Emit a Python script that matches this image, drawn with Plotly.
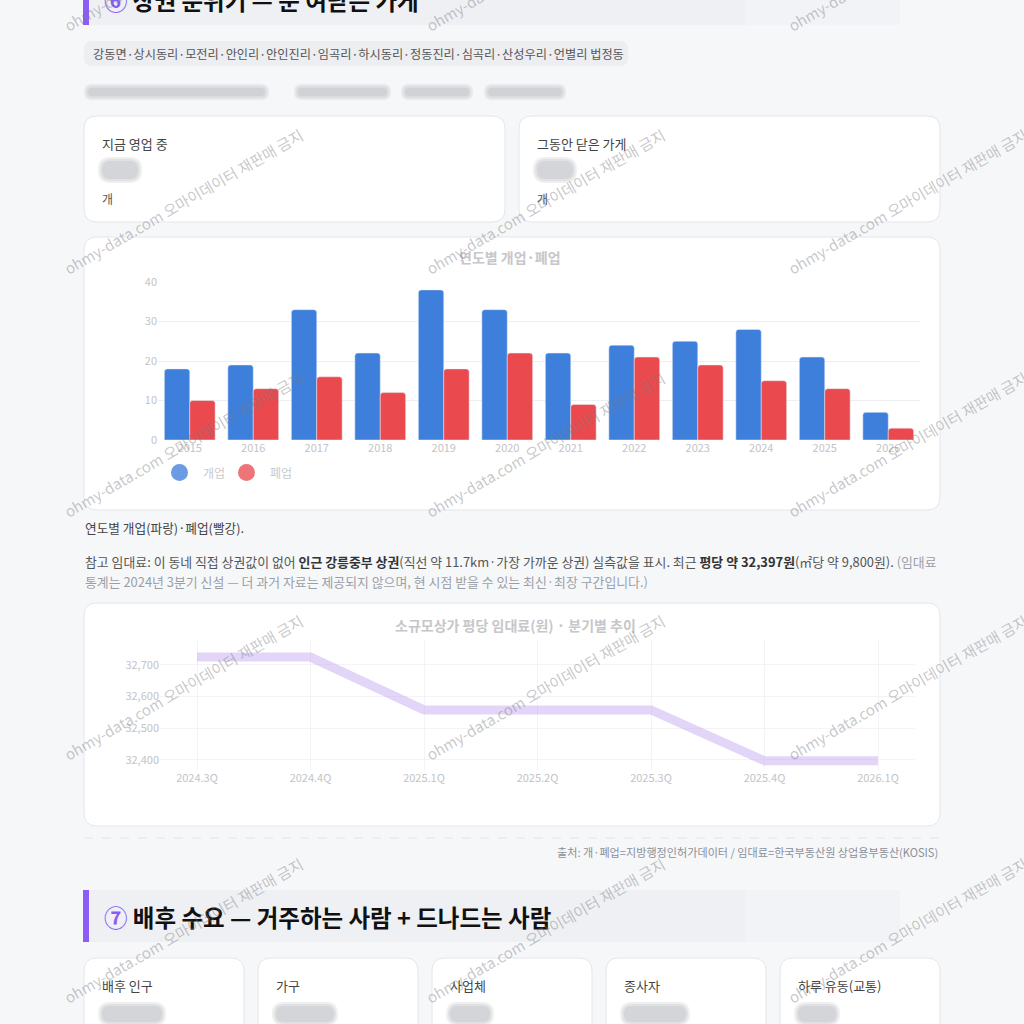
import plotly.graph_objects as go

# ---------------- data ----------------
years = ["2015", "2016", "2017", "2018", "2019", "2020", "2021", "2022", "2023", "2024", "2025", "2026"]
opened = [18, 19, 33, 22, 38, 33, 22, 24, 25, 28, 21, 7]
closed = [10, 13, 16, 12, 18, 22, 9, 21, 19, 15, 13, 3]
bar_ticks = [0, 10, 20, 30, 40]

quarters = ["2024.3Q", "2024.4Q", "2025.1Q", "2025.2Q", "2025.3Q", "2025.4Q", "2026.1Q"]
rent = [32725, 32725, 32558, 32558, 32558, 32397, 32397]
rent_ticks = [32400, 32500, 32600, 32700]

villages = "강동면·상시동리·모전리·안인리·안인진리·임곡리·하시동리·정동진리·심곡리·산성우리·언별리 법정동"
demand_labels = ["배후 인구", "가구", "사업체", "종사자", "하루 유동(교통)"]

# ---------------- helpers ----------------
W = H = 1024
FONT = "Noto Sans CJK KR"


def X(px):
    return px / W


def Y(py):
    return 1 - py / H


def rrect(x0, y0, x1, y1, r, fill, line="rgba(0,0,0,0)", lw=1, layer="below", opacity=1):
    p = (f"M {X(x0 + r)},{Y(y0)} L {X(x1 - r)},{Y(y0)} Q {X(x1)},{Y(y0)} {X(x1)},{Y(y0 + r)} "
         f"L {X(x1)},{Y(y1 - r)} Q {X(x1)},{Y(y1)} {X(x1 - r)},{Y(y1)} "
         f"L {X(x0 + r)},{Y(y1)} Q {X(x0)},{Y(y1)} {X(x0)},{Y(y1 - r)} "
         f"L {X(x0)},{Y(y0 + r)} Q {X(x0)},{Y(y0)} {X(x0 + r)},{Y(y0)} Z")
    return dict(type="path", xref="paper", yref="paper", path=p, fillcolor=fill,
                line=dict(color=line, width=lw), layer=layer, opacity=opacity)


def rect(x0, y0, x1, y1, fill, layer="below"):
    return dict(type="rect", xref="paper", yref="paper", x0=X(x0), x1=X(x1), y0=Y(y1), y1=Y(y0),
                fillcolor=fill, line=dict(width=0), layer=layer)


def blob(x0, x1, yc, h):
    out = []
    for k, op in [(0, 0.22), (2, 0.25), (4, 0.3)]:
        r = max(1, (h - 2 * k) / 2)
        out.append(rrect(x0 + k, yc - h / 2 + k, x1 - k, yc + h / 2 - k, r, "#b9bbc0",
                         layer="above", opacity=op))
    return out


def txt(x, y, s, size=13, color="#444", xanchor="left", bold=False, **kw):
    if bold:
        s = f"<b>{s}</b>"
    return dict(x=X(x), y=Y(y), xref="paper", yref="paper", text=s, showarrow=False,
                xanchor=xanchor, yanchor="middle", font=dict(size=size, color=color, family=FONT), **kw)


shapes = []
ann = []

# ---------------- section 6 header ----------------
shapes.append(rect(89, -10, 745, 25, "#eef0f3"))
shapes.append(rect(745, -10, 900, 25, "#f2f3f6"))
shapes.append(rect(83, -10, 89, 25, "#8b5cf6"))
ann.append(txt(102, 0, "<span style='color:#8b5cf6'>⑥</span> 상권 분위기 — 문 여닫은 가게", size=23.5,
               color="#111", bold=True))

# village chip
shapes.append(rrect(84, 41, 628, 66, 8, "#eceef2"))
ann.append(txt(91, 54, villages, size=12.2, color="#555"))

# blurred sentence
for a, b in [(84, 269), (294, 391), (401, 473), (484, 566)]:
    shapes += blob(a, b, 92, 16)

# ---------------- two stat cards ----------------
for x0, x1, lab in [(84, 505, "지금 영업 중"), (519, 940, "그동안 닫은 가게")]:
    shapes.append(rrect(x0, 116, x1, 222, 13, "#ffffff", line="#e4e6eb"))
    ann.append(txt(x0 + 16, 143, lab, size=13, color="#444"))
    shapes += blob(x0 + 14, x0 + 58, 170, 26)
    ann.append(txt(x0 + 16, 198, "개", size=12, color="#555"))

# ---------------- bar chart card ----------------
shapes.append(rrect(84, 237, 940, 510, 13, "#ffffff", line="#e4e6eb"))
ann.append(txt(510, 257, "연도별 개업·폐업", size=14, color="#c6c7ca", xanchor="center", bold=True))
shapes.append(dict(type="circle", xref="paper", yref="paper", x0=X(171), x1=X(188), y0=Y(481), y1=Y(464),
                   fillcolor="#6b9be3", line=dict(width=0)))
shapes.append(dict(type="circle", xref="paper", yref="paper", x0=X(238), x1=X(255), y0=Y(481), y1=Y(464),
                   fillcolor="#ef7478", line=dict(width=0)))
ann.append(txt(201, 472, "개업", size=12, color="#c9cacd"))
ann.append(txt(268, 472, "폐업", size=12, color="#c9cacd"))

ann.append(txt(83, 527, "연도별 개업(파랑)·폐업(빨강).", size=12.7, color="#444"))

line1 = ("참고 임대료: 이 동네 직접 상권값이 없어 <b><span style='color:#333'>인근 강릉중부 상권</span></b>"
         "(직선 약 11.7km·가장 가까운 상권) 실측값을 표시. 최근 <b><span style='color:#333'>평당 약 32,397원</span></b>"
         "(㎡당 약 9,800원). <span style='color:#9a9fa7'>(임대료</span>")
ann.append(txt(83, 561, line1, size=12.9, color="#555"))
ann.append(txt(83, 581, "통계는 2024년 3분기 신설 — 더 과거 자료는 제공되지 않으며, 현 시점 받을 수 있는 최신·최장 구간입니다.)",
               size=12.9, color="#9a9fa7"))

# ---------------- line chart card ----------------
shapes.append(rrect(84, 603, 940, 826, 13, "#ffffff", line="#e4e6eb"))
ann.append(txt(515, 625, "소규모상가 평당 임대료(원) · 분기별 추이", size=14, color="#c6c7ca",
               xanchor="center", bold=True))

shapes.append(dict(type="line", xref="paper", yref="paper", x0=X(84), x1=X(940), y0=Y(838), y1=Y(838),
                   line=dict(color="#e3e5e9", width=1, dash="dash"), layer="below"))
ann.append(txt(940, 852, "출처: 개·폐업=지방행정인허가데이터 / 임대료=한국부동산원 상업용부동산(KOSIS)",
               size=11.1, color="#8b9099", xanchor="right"))

# ---------------- section 7 header ----------------
shapes.append(rect(89, 890, 745, 942, "#eef0f3"))
shapes.append(rect(745, 890, 900, 942, "#f2f3f6"))
shapes.append(rect(83, 890, 89, 942, "#8b5cf6"))
ann.append(txt(102, 917, "<span style='color:#8b5cf6'>⑦</span> 배후 수요 — 거주하는 사람 + 드나드는 사람",
               size=23.5, color="#111", bold=True))

card_x = [84, 258, 432, 606, 780]
blob_w = [68, 66, 48, 70, 46]
for cx, lab, bw in zip(card_x, demand_labels, blob_w):
    shapes.append(rrect(cx, 958, cx + 160, 1040, 13, "#ffffff", line="#e4e6eb"))
    ann.append(txt(cx + 16, 985, lab, size=13, color="#444"))
    shapes += blob(cx + 14, cx + 14 + bw, 1014, 24)

# ---------------- watermarks ----------------
for cy in [-42, 201, 444, 687, 930]:
    for cx in [183, 545, 907]:
        ann.append(dict(x=X(cx), y=Y(cy), xref="paper", yref="paper", showarrow=False,
                        text="ohmy-data.com 오마이데이터 재판매 금지", textangle=-30,
                        xanchor="center", yanchor="middle",
                        font=dict(size=15, color="rgba(120,120,125,0.42)", family=FONT)))

# ---------------- traces ----------------
fig = go.Figure()
fig.add_trace(go.Bar(x=years, y=opened, name="개업", marker=dict(color="#3e7fdb", cornerradius=3),
                     xaxis="x", yaxis="y", showlegend=False))
fig.add_trace(go.Bar(x=years, y=closed, name="폐업", marker=dict(color="#ea4a4e", cornerradius=3),
                     xaxis="x", yaxis="y", showlegend=False))
fig.add_trace(go.Scatter(x=quarters, y=rent, mode="lines", line=dict(color="rgba(185,155,238,0.42)", width=9),
                         xaxis="x2", yaxis="y2", showlegend=False))

tickgray = dict(size=11, color="#c3c4c8", family=FONT)
fig.update_layout(
    width=W, height=H, margin=dict(l=0, r=0, t=0, b=0, pad=0, autoexpand=False),
    paper_bgcolor="#f6f7f9", plot_bgcolor="rgba(0,0,0,0)",
    font=dict(family=FONT),
    showlegend=False,
    barmode="group", bargap=0.2, bargroupgap=0.0,
    xaxis=dict(domain=[X(158), X(920)], anchor="y", type="category", showgrid=False, zeroline=False,
               showline=False, ticks="", tickfont=tickgray, automargin=False),
    yaxis=dict(domain=[Y(440), Y(282)], anchor="x", range=[0, 40], tickvals=bar_ticks,
               showgrid=True, gridcolor="#eeeff1", zeroline=False, showline=False, ticks="",
               tickfont=tickgray, automargin=False),
    xaxis2=dict(domain=[X(160), X(915)], anchor="y2", type="category", range=[-0.326, 6.326],
                showgrid=True, gridcolor="#f4f4f6", zeroline=False, showline=False, ticks="",
                tickfont=tickgray, automargin=False),
    yaxis2=dict(domain=[Y(770), Y(640)], anchor="x2", range=[32368, 32779], tickvals=rent_ticks,
                tickformat=",d", showgrid=True, gridcolor="#f4f4f6", zeroline=False, showline=False,
                ticks="", tickfont=tickgray, automargin=False),
    shapes=shapes, annotations=ann,
)

fig.write_html("out.html")
